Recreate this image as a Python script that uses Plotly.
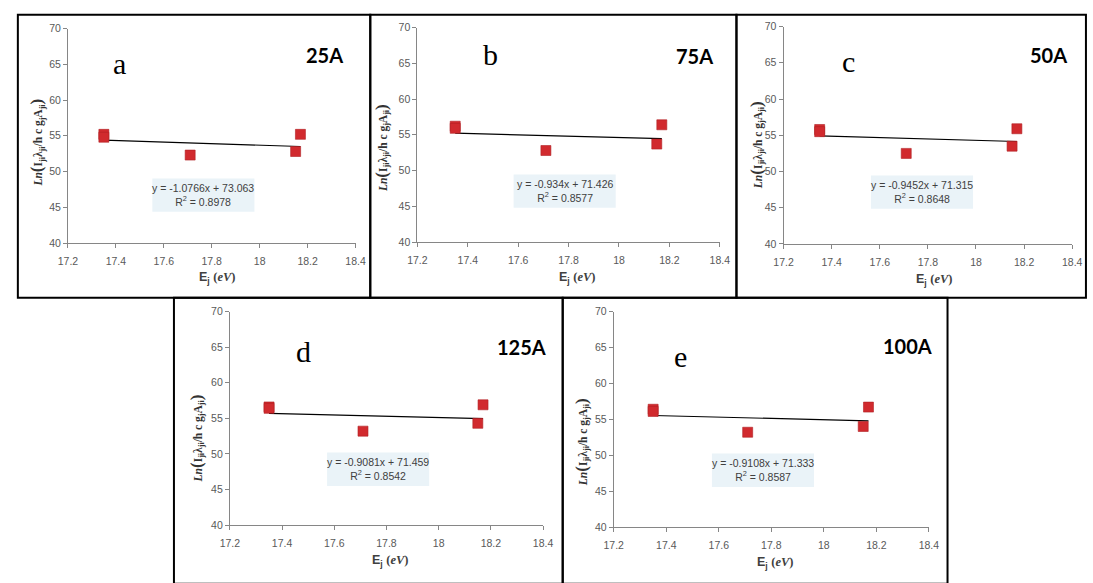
import plotly.graph_objects as go

W, H = 1093, 583

# ---- data ----
panel_letters = ["a", "b", "c", "d", "e"]
currents = ["25A", "75A", "50A", "125A", "100A"]
energies = [17.35, 17.35, 17.71, 18.15, 18.17]
y_a = [55.2, 54.8, 52.3, 52.8, 55.2]
y_b = [56.2, 55.9, 52.8, 53.7, 56.4]
y_c = [55.8, 55.5, 52.5, 53.5, 55.9]
y_d = [56.6, 56.4, 53.2, 54.3, 56.9]
y_e = [56.4, 56.1, 53.2, 54.0, 56.7]
series = [y_a, y_b, y_c, y_d, y_e]
slopes = [-1.0766, -0.934, -0.9452, -0.9081, -0.9108]
intercepts = [73.063, 71.426, 71.315, 71.459, 71.333]
r_squared = ["0.8978", "0.8577", "0.8648", "0.8542", "0.8587"]
x_tick_vals = [17.2, 17.4, 17.6, 17.8, 18.0, 18.2, 18.4]
x_tick_text = ["17.2", "17.4", "17.6", "17.8", "18", "18.2", "18.4"]
y_tick_vals = [40, 45, 50, 55, 60, 65, 70]

# ---- layout geometry (pixels) ----
# plot areas: (left, right, top, bottom)
areas = [(59, 352, 23, 242), (415, 723, 22, 241), (788, 1082, 21, 243),
         (224, 543, 312, 530), (615, 936, 312, 532)]
borders = [(8, 9, 367, 298), (367, 9, 740, 298), (740, 9, 1096, 298),
           (167, 298, 563, 590), (563, 298, 955, 590)]
eq_boxes = [(197, 193), (565, 189), (929, 190), (375, 473), (767, 474)]
letter_pos = [(112, 59), (489, 50), (854, 57), (299, 353), (683, 358)]
current_pos = [(320, 50), (697, 51), (1058, 50), (521, 348), (914, 347)]
xlabel_pos = [(211, 278), (578, 278), (942, 280), (388, 567), (780, 569)]
ylabel_pos = [(27, 140), (378, 145), (760, 142), (190, 442), (582, 445)]


def px(x):
    return x / W


def py(y):
    return 1 - y / H


fig = go.Figure()
layout = dict(width=W, height=H, margin=dict(l=0, r=0, t=0, b=0),
              paper_bgcolor="white", plot_bgcolor="white", showlegend=False)
shapes, annotations = [], []

axis_font = dict(family="Liberation Sans", size=10.5, color="#595959")

for i in range(5):
    s = "" if i == 0 else str(i + 1)
    l, r, t, b = areas[i]
    layout["xaxis" + s] = dict(
        domain=[px(l), px(r)], range=[17.2, 18.4], anchor="y" + s,
        tickvals=x_tick_vals, ticktext=x_tick_text, showgrid=False,
        zeroline=False, showline=True, linecolor="#868686", linewidth=1,
        ticks="outside", ticklen=4, tickcolor="#868686", tickfont=axis_font,
        ticklabelstandoff=4)
    layout["yaxis" + s] = dict(
        domain=[py(b), py(t)], range=[40, 70], anchor="x" + s,
        tickvals=y_tick_vals, showgrid=False, zeroline=False, showline=True,
        linecolor="#868686", linewidth=1, ticks="outside", ticklen=4,
        tickcolor="#868686", tickfont=axis_font)

    xs = energies
    fig.add_trace(go.Scatter(
        x=[min(xs), max(xs)],
        y=[slopes[i] * min(xs) + intercepts[i], slopes[i] * max(xs) + intercepts[i]],
        mode="lines", line=dict(color="black", width=1.2),
        xaxis="x" + s, yaxis="y" + s, hoverinfo="skip"))
    fig.add_trace(go.Scatter(
        x=xs, y=series[i], mode="markers",
        marker=dict(symbol="square", size=10, color="#d12a2e",
                    line=dict(color="#b02024", width=0.6)),
        xaxis="x" + s, yaxis="y" + s))

    # panel border
    bx0, by0, bx1, by1 = borders[i]
    shapes.append(dict(type="rect", xref="paper", yref="paper",
                       x0=px(bx0), x1=px(bx1), y0=py(by1), y1=py(by0),
                       line=dict(color="black", width=2), layer="above"))
    # equation box
    cx, cy = eq_boxes[i]
    shapes.append(dict(type="rect", xref="paper", yref="paper",
                       x0=px(cx - 52), x1=px(cx + 52), y0=py(cy + 17), y1=py(cy - 17),
                       fillcolor="#eaf3f8", line=dict(width=0), layer="below"))
    sign = "-" if slopes[i] < 0 else ""
    eq = f"y = {sign}{abs(slopes[i])}x + {intercepts[i]}<br>R<sup>2</sup> = {r_squared[i]}"
    annotations.append(dict(xref="paper", yref="paper", x=px(cx), y=py(cy),
                            text=eq, showarrow=False, align="center",
                            font=dict(family="Liberation Sans", size=10.5, color="#404040"),
                            xanchor="center", yanchor="middle"))
    # panel letter
    lx, ly = letter_pos[i]
    annotations.append(dict(xref="paper", yref="paper", x=px(lx), y=py(ly),
                            text=panel_letters[i], showarrow=False,
                            font=dict(family="Liberation Serif", size=30, color="black"),
                            xanchor="center", yanchor="middle"))
    # current label
    cx2, cy2 = current_pos[i]
    annotations.append(dict(xref="paper", yref="paper", x=px(cx2), y=py(cy2),
                            text=f"<b>{currents[i]}</b>", showarrow=False,
                            font=dict(family="Lato", size=20, color="black"),
                            xanchor="center", yanchor="middle"))
    # x label
    xl, yl = xlabel_pos[i]
    annotations.append(dict(xref="paper", yref="paper", x=px(xl), y=py(yl),
                            text="<b>E<sub>j</sub></b> <span style=\"font-family:'Liberation Serif'\"><b>(<i>eV</i>)</b></span>",
                            showarrow=False,
                            font=dict(family="Liberation Sans", size=12.5, color="#404040"),
                            xanchor="center", yanchor="middle"))
    # y label
    xl, yl = ylabel_pos[i]
    annotations.append(dict(xref="paper", yref="paper", x=px(xl), y=py(yl),
                            text="<b><i>Ln</i><span style=\"font-size:17px\">(</span>I<sub>ji</sub>λ<sub>ji</sub>/h c g<sub>j</sub>A<sub>ji</sub><span style=\"font-size:17px\">)</span></b>",
                            showarrow=False, textangle=-90,
                            font=dict(family="Liberation Serif", size=11.5, color="#333333"),
                            xanchor="center", yanchor="middle"))

layout["shapes"] = shapes
layout["annotations"] = annotations
fig.update_layout(**layout)
fig.write_html("out.html")
